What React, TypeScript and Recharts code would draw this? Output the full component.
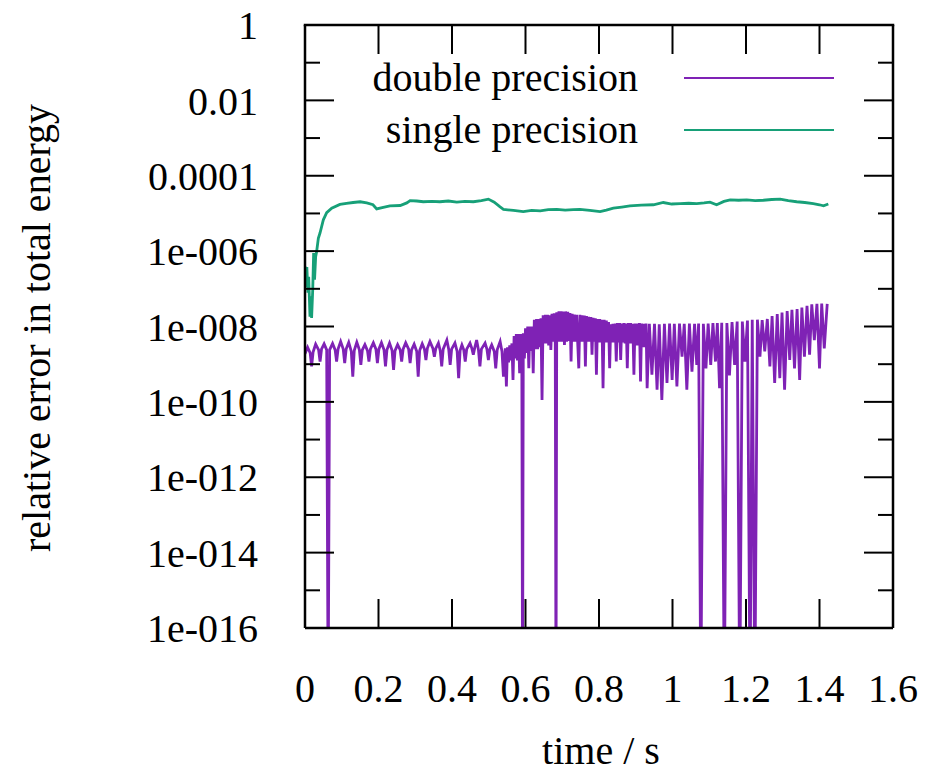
import React from 'react';
import { LineChart, Line, XAxis, YAxis, Legend } from 'recharts';

const FONT = '"Liberation Serif", "Times New Roman", serif';
const PURPLE = '#7f22b5';
const GREEN = '#17a078';

const X_TICKS = [0, 0.2, 0.4, 0.6, 0.8, 1, 1.2, 1.4, 1.6];
const Y_MAJOR_EXPONENTS = [0, -2, -4, -6, -8, -10, -12, -14, -16];
const Y_TICK_LABELS = ['1', '0.01', '0.0001', '1e-006', '1e-008', '1e-010', '1e-012', '1e-014', '1e-016'];
const Y_ALL_EXPONENTS = [0, -1, -2, -3, -4, -5, -6, -7, -8, -9, -10, -11, -12, -13, -14, -15, -16];

const SERIES = [
  { name: 'double precision', color: PURPLE },
  { name: 'single precision', color: GREEN },
];

// rows are [time / s, log10(relative error)]; -18 = drops below the axis
const doubleEarly: [number, number][] = [
  [0, -8.72], [0.007, -8.55], [0.014, -8.7], [0.018, -9.06], [0.022, -8.68], [0.029, -8.47],
  [0.037, -8.62], [0.041, -8.93], [0.045, -8.6], [0.052, -8.46], [0.059, -8.62], [0.063, -18],
  [0.067, -8.62], [0.075, -8.45], [0.082, -8.62], [0.086, -8.93], [0.09, -8.6], [0.097, -8.4],
  [0.104, -8.6], [0.108, -8.97], [0.112, -8.6], [0.119, -8.42], [0.126, -8.66], [0.13, -9.33],
  [0.134, -8.64], [0.141, -8.42], [0.148, -8.62], [0.152, -9.02], [0.156, -8.62], [0.163, -8.48],
  [0.17, -8.64], [0.174, -8.93], [0.178, -8.6], [0.186, -8.43], [0.193, -8.6], [0.197, -8.97],
  [0.201, -8.6], [0.208, -8.43], [0.215, -8.62], [0.219, -9.06], [0.223, -8.62], [0.23, -8.44],
  [0.237, -8.64], [0.241, -9.15], [0.245, -8.64], [0.252, -8.48], [0.259, -8.62], [0.263, -8.93],
  [0.267, -8.6], [0.274, -8.43], [0.282, -8.6], [0.286, -8.97], [0.29, -8.62], [0.297, -8.47],
  [0.304, -8.66], [0.308, -9.33], [0.312, -8.64], [0.319, -8.46], [0.325, -8.6], [0.329, -8.89],
  [0.333, -8.58], [0.34, -8.4], [0.348, -8.58], [0.352, -8.8], [0.356, -8.58], [0.363, -8.44],
  [0.368, -8.64], [0.372, -9.06], [0.376, -8.6], [0.386, -8.36], [0.391, -8.6], [0.395, -9.02],
  [0.399, -8.6], [0.408, -8.44], [0.414, -8.66], [0.418, -9.37], [0.422, -8.64], [0.427, -8.49],
  [0.432, -8.62], [0.436, -8.93], [0.44, -8.6], [0.449, -8.44], [0.454, -8.58], [0.458, -8.75],
  [0.462, -8.56], [0.467, -8.36], [0.472, -8.62], [0.476, -9.06], [0.48, -8.6], [0.49, -8.44],
  [0.495, -8.6], [0.499, -8.89], [0.503, -8.6], [0.508, -8.49], [0.515, -8.66], [0.519, -9.11],
  [0.523, -8.62], [0.531, -8.4], [0.536, -8.66], [0.54, -9.33],
];

const doubleDense: [number, number][] = [
  [0.545, -8.58], [0.548, -9.59], [0.551, -8.55], [0.554, -8.95], [0.557, -8.5], [0.56, -8.9],
  [0.563, -8.45], [0.566, -9.42], [0.569, -8.25], [0.572, -8.85], [0.575, -8.2], [0.578, -8.9],
  [0.581, -8.2], [0.584, -9.24], [0.587, -8.2], [0.59, -8.85], [0.592, -18], [0.594, -8.18],
  [0.597, -8.85], [0.6, -8.05], [0.603, -8.7], [0.606, -8.0], [0.609, -9.11], [0.612, -8.0],
  [0.615, -8.65], [0.618, -8.0], [0.621, -9.24], [0.624, -7.82], [0.627, -8.6], [0.63, -7.8],
  [0.633, -8.6], [0.636, -7.8], [0.639, -8.55], [0.642, -7.78], [0.645, -9.95], [0.648, -7.7],
  [0.651, -8.45], [0.654, -7.69], [0.657, -8.45], [0.66, -7.69], [0.663, -8.5], [0.666, -7.7],
  [0.669, -8.62], [0.672, -7.66], [0.675, -8.4], [0.678, -7.65], [0.681, -8.45], [0.683, -18],
  [0.685, -7.62], [0.688, -8.4], [0.691, -7.6], [0.694, -8.4], [0.697, -7.6], [0.7, -8.4],
  [0.703, -7.6], [0.706, -8.49], [0.709, -7.6], [0.712, -8.4], [0.715, -7.61], [0.718, -8.38],
  [0.721, -7.64], [0.724, -8.93], [0.727, -7.66], [0.73, -8.4], [0.733, -7.68], [0.736, -8.4],
  [0.739, -7.69], [0.742, -8.42], [0.745, -9.11], [0.748, -7.69], [0.751, -8.4], [0.754, -7.7],
  [0.757, -8.4], [0.76, -7.71], [0.763, -9.06], [0.766, -7.72], [0.769, -8.4], [0.772, -7.74],
  [0.775, -8.4], [0.778, -7.75], [0.781, -8.75], [0.784, -7.77], [0.787, -8.4], [0.79, -7.78],
  [0.793, -9.28], [0.796, -7.8], [0.799, -8.42], [0.802, -7.8], [0.805, -8.42], [0.808, -7.82],
  [0.811, -9.64], [0.814, -7.82], [0.817, -8.42], [0.82, -7.84], [0.823, -8.42], [0.826, -7.88],
  [0.829, -9.11], [0.832, -7.94], [0.835, -8.42], [0.838, -7.93], [0.841, -8.42], [0.844, -7.92],
  [0.847, -8.93], [0.85, -7.91], [0.853, -8.42], [0.856, -7.91], [0.859, -8.89], [0.862, -7.92],
  [0.865, -8.42], [0.868, -7.91], [0.871, -8.45], [0.874, -7.92], [0.877, -9.11], [0.88, -7.91],
  [0.883, -8.45], [0.886, -7.91], [0.889, -8.45], [0.892, -7.93], [0.895, -9.28], [0.898, -7.92],
  [0.901, -8.5], [0.904, -7.92], [0.907, -8.5], [0.91, -7.91], [0.913, -9.46], [0.916, -7.92],
  [0.919, -8.55], [0.922, -7.93], [0.925, -8.55], [0.928, -7.92], [0.931, -9.64], [0.937, -7.93],
];

const doubleLate: [number, number][] = [
  [0.944, -9.28], [0.951, -7.93], [0.958, -9.68], [0.964, -7.94], [0.971, -9.95], [0.978, -7.93],
  [0.985, -9.5], [0.992, -7.92], [0.999, -9.42], [1.005, -7.93], [1.012, -9.59], [1.019, -7.92],
  [1.026, -8.8], [1.032, -7.93], [1.039, -9.68], [1.046, -7.92], [1.053, -9.2], [1.06, -7.93],
  [1.066, -9.02], [1.071, -7.92], [1.077, -18], [1.084, -7.93], [1.091, -9.11], [1.097, -7.92],
  [1.104, -9.02], [1.11, -7.91], [1.117, -8.93], [1.122, -7.91], [1.128, -9.64], [1.134, -7.9],
  [1.141, -18], [1.148, -7.91], [1.155, -9.3], [1.162, -7.88], [1.169, -9.02], [1.176, -7.87],
  [1.183, -18], [1.19, -7.87], [1.197, -8.93], [1.204, -7.84], [1.211, -18], [1.217, -7.82],
  [1.224, -18], [1.231, -7.82], [1.238, -8.8], [1.244, -7.83], [1.251, -8.66], [1.258, -7.8],
  [1.265, -9.06], [1.271, -7.72], [1.278, -9.5], [1.285, -7.67], [1.292, -9.37], [1.298, -7.63],
  [1.305, -9.68], [1.312, -7.59], [1.319, -8.89], [1.325, -7.56], [1.332, -9.11], [1.339, -7.54],
  [1.346, -9.42], [1.352, -7.5], [1.359, -8.8], [1.366, -7.45], [1.373, -8.75], [1.379, -7.41],
  [1.386, -8.36], [1.393, -7.4], [1.4, -9.11], [1.406, -7.39], [1.413, -8.58], [1.421, -7.4],
];

const singleCurve: [number, number][] = [
  [0, -6.4], [0.003, -6.95], [0.005, -6.42], [0.008, -7.1], [0.01, -6.68], [0.0136, -7.74],
  [0.016, -7.2], [0.018, -7.77], [0.021, -7.03], [0.0235, -6.05], [0.026, -6.76], [0.029, -6.15],
  [0.0317, -6.01], [0.0363, -5.66], [0.0408, -5.52], [0.0499, -5.17], [0.059, -4.98], [0.0726, -4.86],
  [0.095, -4.76], [0.113, -4.73], [0.131, -4.71], [0.15, -4.69], [0.168, -4.72], [0.185, -4.77],
  [0.195, -4.88], [0.213, -4.84], [0.231, -4.8], [0.259, -4.79], [0.277, -4.72], [0.286, -4.66],
  [0.304, -4.67], [0.322, -4.69], [0.345, -4.68], [0.367, -4.69], [0.39, -4.67], [0.413, -4.7],
  [0.435, -4.68], [0.458, -4.69], [0.48, -4.66], [0.499, -4.62], [0.515, -4.7], [0.53, -4.82],
  [0.54, -4.89], [0.567, -4.92], [0.594, -4.95], [0.617, -4.92], [0.64, -4.93], [0.662, -4.9],
  [0.685, -4.89], [0.708, -4.91], [0.73, -4.9], [0.748, -4.89], [0.775, -4.92], [0.803, -4.95],
  [0.82, -4.91], [0.839, -4.86], [0.862, -4.83], [0.884, -4.8], [0.915, -4.78], [0.948, -4.77],
  [0.975, -4.71], [0.998, -4.75], [1.021, -4.74], [1.044, -4.73], [1.066, -4.74], [1.086, -4.72],
  [1.102, -4.7], [1.12, -4.77], [1.14, -4.68], [1.157, -4.64], [1.18, -4.65], [1.202, -4.64],
  [1.225, -4.66], [1.247, -4.65], [1.27, -4.63], [1.293, -4.62], [1.315, -4.66], [1.338, -4.69],
  [1.36, -4.71], [1.383, -4.74], [1.4, -4.77], [1.411, -4.8], [1.424, -4.75],
];

const toPoints = (rows: [number, number][]) => rows.map(([t, e]) => ({ t, err: Math.pow(10, e) }));

const doubleData = toPoints([...doubleEarly, ...doubleDense, ...doubleLate]);
const singleData = toPoints(singleCurve);

const yMajorTicks = Y_MAJOR_EXPONENTS.map((e) => Math.pow(10, e));
const yAllTicks = Y_ALL_EXPONENTS.map((e) => Math.pow(10, e));
const Y_DOMAIN = [1e-16, 1];

const formatYTick = (v: number) => {
  const idx = Y_MAJOR_EXPONENTS.indexOf(Math.round(Math.log10(v)));
  return idx >= 0 ? Y_TICK_LABELS[idx] : '';
};

const MAJOR = 29;
const MINOR = 15;
const tickStroke = { stroke: '#000', strokeWidth: 2 };
const isMajor = (v: number) => Math.round(Math.log10(v)) % 2 === 0;

// plot box edges inside the svg, used for the inward tick marks
const PLOT = { left: 297, right: 885, top: 17, bottom: 620 };

// gnuplot style: ticks on both vertical borders, pointing inwards
const DecadeTicks = (p: any) => {
  const len = isMajor(p.payload.value) ? MAJOR : MINOR;
  return (
    <g>
      <line x1={PLOT.left} x2={PLOT.left + len} y1={p.y} y2={p.y} {...tickStroke} />
      <line x1={PLOT.right} x2={PLOT.right - len} y1={p.y} y2={p.y} {...tickStroke} />
    </g>
  );
};

// x tick label plus the inward marks on bottom and top borders
const TimeTick = (p: any) => (
  <g>
    <line x1={p.x} x2={p.x} y1={PLOT.bottom} y2={PLOT.bottom - MAJOR} {...tickStroke} />
    <line x1={p.x} x2={p.x} y1={PLOT.top} y2={PLOT.top + MAJOR} {...tickStroke} />
    <text x={p.x} y={p.y} dy="0.71em" textAnchor="middle" fontSize={40} fontFamily={FONT} fill="#000">
      {String(p.payload.value)}
    </text>
  </g>
);

const XTitle = () => (
  <text x={593} y={756} textAnchor="middle" fontSize={40} fontFamily={FONT} fill="#000">
    time / s
  </text>
);

// y title; the top edge of the border box is drawn with it
const YTitle = () => (
  <g>
    <rect x={PLOT.left - 1.25} y={PLOT.top - 1.25} width={PLOT.right - PLOT.left + 2.5} height={2.5} fill="#000" />
    <text x={42} y={320} transform="rotate(-90, 42, 320)" textAnchor="middle" fontSize={40} fontFamily={FONT} fill="#000">
      relative error in total energy
    </text>
  </g>
);

const renderLegend = () => (
  <div style={{ fontFamily: FONT, fontSize: 40, color: '#000' }}>
    {SERIES.map((s) => (
      <div key={s.name} style={{ display: 'flex', alignItems: 'center', height: 52 }}>
        <span style={{ width: 340, textAlign: 'right', lineHeight: '52px' }}>{s.name}</span>
        <span style={{ marginLeft: 46, width: 150, height: 2.6, background: s.color }} />
      </div>
    ))}
  </div>
);

const axisLine = { stroke: '#000', strokeWidth: 2.5 };

export default function App() {
  return (
    <LineChart width={919} height={765} margin={{ top: 17, right: 34, bottom: 20, left: 0 }}>
      <XAxis
        xAxisId="x"
        dataKey="t"
        type="number"
        domain={[0, 1.6]}
        allowDataOverflow
        ticks={X_TICKS}
        interval={0}
        height={125}
        axisLine={axisLine}
        tickLine={false}
        tickSize={0}
        tickMargin={46}
        tick={TimeTick}
        label={{ content: XTitle }}
      />
      <YAxis
        yAxisId="y"
        type="number"
        scale="log"
        domain={Y_DOMAIN}
        allowDataOverflow
        ticks={yMajorTicks}
        interval={0}
        width={297}
        axisLine={axisLine}
        tickLine={false}
        tickSize={0}
        tickMargin={47}
        tickFormatter={formatYTick}
        tick={{ fill: '#000', fontSize: 40, fontFamily: FONT }}
        label={{ content: YTitle }}
      />
      <YAxis
        yAxisId="yRight"
        orientation="right"
        mirror
        width={2}
        type="number"
        scale="log"
        domain={Y_DOMAIN}
        allowDataOverflow
        ticks={yAllTicks}
        interval={0}
        axisLine={axisLine}
        tickLine={false}
        tickSize={0}
        tickMargin={0}
        tick={DecadeTicks}
      />
      <Legend
        layout="vertical"
        align="center"
        verticalAlign="middle"
        wrapperStyle={{ left: 290, top: 44, width: 560 }}
        content={renderLegend}
      />
      <Line
        xAxisId="x"
        yAxisId="y"
        data={doubleData}
        dataKey="err"
        name="double precision"
        type="linear"
        stroke={PURPLE}
        strokeWidth={2.8}
        dot={false}
        activeDot={false}
        isAnimationActive={false}
      />
      <Line
        xAxisId="x"
        yAxisId="y"
        data={singleData}
        dataKey="err"
        name="single precision"
        type="linear"
        stroke={GREEN}
        strokeWidth={2.8}
        dot={false}
        activeDot={false}
        isAnimationActive={false}
      />
    </LineChart>
  );
}
